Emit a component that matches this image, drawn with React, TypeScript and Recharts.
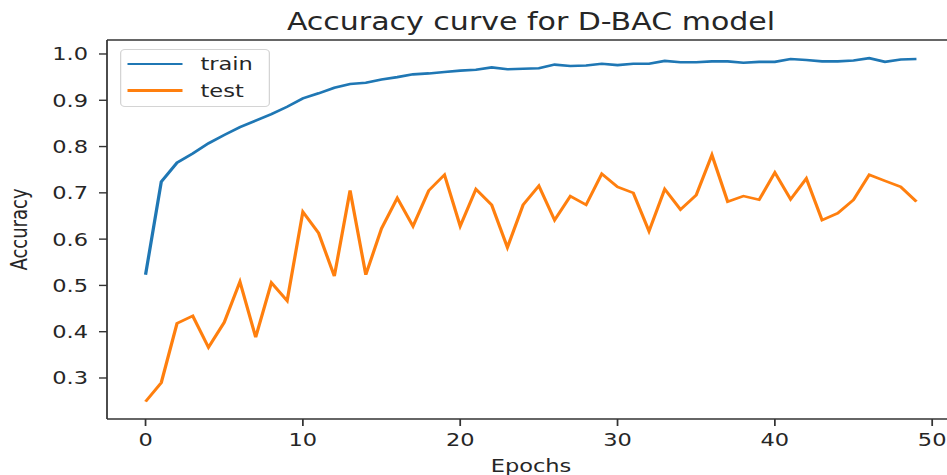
import { LineChart, Line, XAxis, YAxis, ReferenceLine, Label } from "recharts";

// per-epoch accuracy
const trainAcc = [
  0.523, 0.724, 0.765, 0.785, 0.807, 0.825, 0.842, 0.856, 0.87, 0.886,
  0.904, 0.915, 0.927, 0.935, 0.938, 0.945, 0.95, 0.956, 0.958, 0.961,
  0.964, 0.966, 0.971, 0.967, 0.968, 0.969, 0.977, 0.974, 0.975, 0.979,
  0.976, 0.979, 0.979, 0.985, 0.982, 0.982, 0.984, 0.984, 0.981, 0.983,
  0.983, 0.989, 0.987, 0.984, 0.984, 0.986, 0.991, 0.983, 0.988, 0.989,
];
const testAcc = [
  0.249, 0.29, 0.418, 0.434, 0.366, 0.42, 0.508, 0.388, 0.506, 0.467,
  0.659, 0.613, 0.52, 0.705, 0.523, 0.623, 0.689, 0.628, 0.705, 0.739,
  0.628, 0.708, 0.674, 0.582, 0.674, 0.715, 0.641, 0.693, 0.674, 0.741,
  0.713, 0.7, 0.617, 0.708, 0.664, 0.695, 0.782, 0.681, 0.693, 0.685,
  0.744, 0.686, 0.731, 0.641, 0.656, 0.685, 0.739, 0.726, 0.713, 0.681,
];
const xTicks = [0, 10, 20, 30, 40, 50];
const yTicks = [0.3, 0.4, 0.5, 0.6, 0.7, 0.8, 0.9, 1.0];

const data = trainAcc.map((train, epoch) => ({ epoch, train, test: testAcc[epoch] }));

const X_DOMAIN: [number, number] = [-2.45, 51.45];
const Y_DOMAIN: [number, number] = [0.2114, 1.0302];

const STRETCH = 1.25; // figure is drawn wide
const FONT = "'DejaVu Sans', sans-serif";
const INK = "#262626";
const SPINE = "#333";
const BLUE = "#1f77b4";
const ORANGE = "#ff7f0e";

const tickStyle = { fill: INK, fontSize: 18, fontFamily: FONT };

const YTitle = (props: any) => {
  const { y, height } = props.viewBox;
  return (
    <text
      transform={`translate(21.6, ${y + height / 2}) rotate(-90)`}
      textAnchor="middle"
      fill={INK}
      fontSize={18}
      fontFamily={FONT}
    >
      Accuracy
    </text>
  );
};

const legendItems = [
  { name: "train", color: BLUE },
  { name: "test", color: ORANGE },
];

export default function App() {
  return (
    <div style={{ position: "fixed", left: 0, top: 0, width: 947, height: 475, overflow: "hidden", background: "#fff" }}>
      <div style={{ position: "relative", width: 780, height: 475, transform: `scaleX(${STRETCH})`, transformOrigin: "0 0" }}>
        <div
          style={{
            position: "absolute",
            left: 85.6,
            width: 678.4,
            top: 8,
            textAlign: "center",
            fontFamily: FONT,
            fontSize: 24,
            color: INK,
            lineHeight: "28px",
          }}
        >
          Accuracy curve for D-BAC model
        </div>
        <LineChart width={780} height={475} data={data} margin={{ top: 40, right: 16, bottom: 0, left: 0 }}>
          <XAxis
            dataKey="epoch"
            type="number"
            domain={X_DOMAIN}
            allowDataOverflow
            ticks={xTicks}
            tick={tickStyle}
            tickSize={7}
            tickMargin={7}
            height={56}
            axisLine={{ stroke: SPINE, strokeWidth: 1.4 }}
            tickLine={{ stroke: SPINE, strokeWidth: 1.4 }}
          >
            <Label value="Epochs" position="insideBottom" offset={3} fill={INK} fontSize={18} fontFamily={FONT} />
          </XAxis>
          <YAxis
            type="number"
            domain={Y_DOMAIN}
            allowDataOverflow
            ticks={yTicks}
            tickFormatter={(v: number) => v.toFixed(1)}
            tick={tickStyle}
            tickSize={6.4}
            tickMargin={8.8}
            width={85.6}
            axisLine={{ stroke: SPINE, strokeWidth: 1.4 }}
            tickLine={{ stroke: SPINE, strokeWidth: 1.4 }}
          >
            <Label content={YTitle} />
          </YAxis>
          <ReferenceLine y={Y_DOMAIN[1]} stroke={SPINE} strokeWidth={1.4} />
          <Line dataKey="train" stroke={BLUE} strokeWidth={2.6} dot={false} isAnimationActive={false} />
          <Line dataKey="test" stroke={ORANGE} strokeWidth={2.6} dot={false} isAnimationActive={false} />
        </LineChart>
        <div
          style={{
            position: "absolute",
            left: 96,
            top: 49,
            width: 120,
            height: 58,
            boxSizing: "border-box",
            border: "1.4px solid #d4d4d4",
            borderRadius: 4,
            background: "rgba(255,255,255,0.8)",
            fontFamily: FONT,
            fontSize: 18,
            color: INK,
          }}
        >
          {legendItems.map((item, i) => (
            <div key={item.name} style={{ position: "absolute", left: 5, top: 3 + i * 26.7, height: 22, display: "flex", alignItems: "center" }}>
              <span style={{ display: "inline-block", width: 44, height: 2.6, background: item.color }} />
              <span style={{ marginLeft: 14.4, lineHeight: "22px" }}>{item.name}</span>
            </div>
          ))}
        </div>
      </div>
    </div>
  );
}
